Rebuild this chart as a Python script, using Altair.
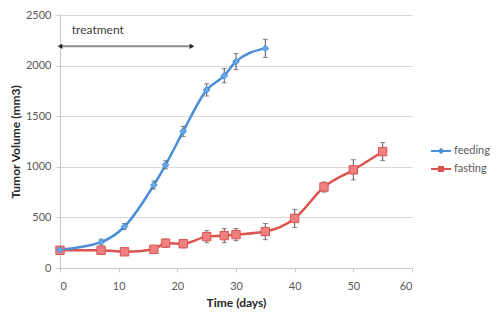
import altair as alt
import pandas as pd

feeding_days = [0, 7, 11, 16, 18, 21, 25, 28, 30, 35]
feeding_vol = [180, 255, 410, 820, 1020, 1350, 1760, 1900, 2040, 2170]
feeding_err = [30, 30, 30, 40, 40, 50, 60, 70, 80, 90]

fasting_days = [0, 7, 11, 16, 18, 21, 25, 28, 30, 35, 40, 45, 50, 55]
fasting_vol = [175, 175, 160, 185, 245, 240, 310, 320, 330, 360, 490, 800, 970, 1150]
fasting_err = [30, 30, 30, 30, 40, 40, 60, 70, 60, 80, 90, 50, 100, 90]

series_names = ["feeding", "fasting"]
series_colors = ["#4a8fd8", "#dc5450"]
x_ticks = [0, 10, 20, 30, 40, 50, 60]
y_ticks = [0, 500, 1000, 1500, 2000, 2500]

treatment_label = "treatment"
treatment_start = 0
treatment_end = 22.5
treatment_y = 2190
treatment_label_x = 2
treatment_label_y = 2355

FONT = "Lato"

rows = []
for d, v, e in zip(feeding_days, feeding_vol, feeding_err):
    rows.append({"series": "feeding", "day": d, "vol": v, "lo": v - e, "hi": v + e})
for d, v, e in zip(fasting_days, fasting_vol, fasting_err):
    rows.append({"series": "fasting", "day": d, "vol": v, "lo": v - e, "hi": v + e})
df = pd.DataFrame(rows)

xscale = alt.Scale(domain=[0, 60], nice=False)
yscale = alt.Scale(domain=[0, 2500], nice=False)
cscale = alt.Scale(domain=series_names, range=series_colors)

x_enc = alt.X("day:Q", scale=xscale, title="Time (days)",
              axis=alt.Axis(values=x_ticks, format="d", grid=False, domainColor="#c8c8c8",
                            tickColor="#c8c8c8", tickSize=4, labelPadding=8,
                            labelColor="#595959", labelFontSize=11, labelFont=FONT,
                            titleFont=FONT, titleFontSize=12, titleColor="#262626",
                            titleFontWeight="bold", titlePadding=6))
y_enc = alt.Y("vol:Q", scale=yscale, title="Tumor Volume (mm3)",
              axis=alt.Axis(values=y_ticks, format="d", grid=True, gridColor="#d9d9d9",
                            domainColor="#c8c8c8", tickColor="#c8c8c8", tickSize=4,
                            labelPadding=5, labelColor="#595959", labelFontSize=11,
                            labelFont=FONT, titleFont=FONT, titleFontSize=12,
                            titleColor="#262626", titleFontWeight="bold",
                            titlePadding=3))

base = alt.Chart(df)

line_fast = base.transform_filter(alt.datum.series == "fasting").mark_line(
    interpolate="monotone", strokeWidth=2.5, color=series_colors[1]
).encode(x=x_enc, y=y_enc)
line_feed = base.transform_filter(alt.datum.series == "feeding").mark_line(
    interpolate="monotone", strokeWidth=2.5, color=series_colors[0]
).encode(x="day:Q", y="vol:Q")

err_rule = base.mark_rule(color="#555555", strokeWidth=1).encode(
    x="day:Q", y="lo:Q", y2="hi:Q"
)
err_lo = base.mark_tick(orient="horizontal", size=5, thickness=1, color="#555555").encode(
    x="day:Q", y="lo:Q"
)
err_hi = base.mark_tick(orient="horizontal", size=5, thickness=1, color="#555555").encode(
    x="day:Q", y="hi:Q"
)

pts_feed = base.transform_filter(alt.datum.series == "feeding").mark_point(
    shape="diamond", filled=True, size=45, color="#6aa6e4", stroke="#4a8fd8", strokeWidth=1, opacity=1
).encode(x="day:Q", y="vol:Q")

pts_fast = base.transform_filter(alt.datum.series == "fasting").mark_point(
    shape="square", filled=True, size=70, color="#ee8080", stroke="#dc5450", strokeWidth=1, opacity=1
).encode(x="day:Q", y="vol:Q")

feed_sym = "M-1,-0.1L1,-0.1L1,0.1L-1,0.1Z M0,-0.32L0.32,0L0,0.32L-0.32,0Z"
fast_sym = "M-1,-0.1L1,-0.1L1,0.1L-1,0.1Z M-0.3,-0.3L0.3,-0.3L0.3,0.3L-0.3,0.3Z"

leg = alt.Legend(title=None, orient="none", legendX=371, legendY=126,
                 symbolSize=400, symbolStrokeWidth=0, rowPadding=3,
                 labelFont=FONT, labelFontSize=11, labelColor="#595959",
                 labelOffset=3, symbolOpacity=1)

legend_layer = base.transform_filter("false").mark_point(filled=True, opacity=1).encode(
    x="day:Q", y="vol:Q",
    color=alt.Color("series:N", scale=cscale, legend=leg),
    shape=alt.Shape("series:N", scale=alt.Scale(domain=series_names, range=[feed_sym, fast_sym]),
                    legend=leg),
)

arrow_df = pd.DataFrame({"x": [treatment_start], "x2": [treatment_end], "y": [treatment_y]})
arrow_base = alt.Chart(arrow_df)
shaft = arrow_base.mark_rule(color="#8c8c8c", strokeWidth=2).encode(
    x="x:Q", x2="x2:Q", y="y:Q"
)
head_l = arrow_base.mark_point(shape="triangle-left", filled=True, size=30, color="#262626", opacity=1).encode(
    x="x:Q", y="y:Q"
)
head_r = arrow_base.mark_point(shape="triangle-right", filled=True, size=30, color="#262626", opacity=1).encode(
    x="x2:Q", y="y:Q"
)

label_df = pd.DataFrame({"x": [treatment_label_x], "y": [treatment_label_y], "t": [treatment_label]})
label = alt.Chart(label_df).mark_text(align="left", baseline="middle", font=FONT, fontSize=12,
                                      color="#404040").encode(x="x:Q", y="y:Q", text="t:N")

chart = alt.layer(
    line_fast, line_feed, err_rule, err_lo, err_hi, pts_fast, pts_feed, legend_layer,
    shaft, head_l, head_r, label
).properties(
    width=352, height=253,
    autosize=alt.AutoSizeParams(type="none"),
    padding={"left": 52, "top": 7, "right": 80, "bottom": 43},
).configure_view(stroke=None)

chart.save("out.html", embed_options={"renderer": "svg", "actions": False})
